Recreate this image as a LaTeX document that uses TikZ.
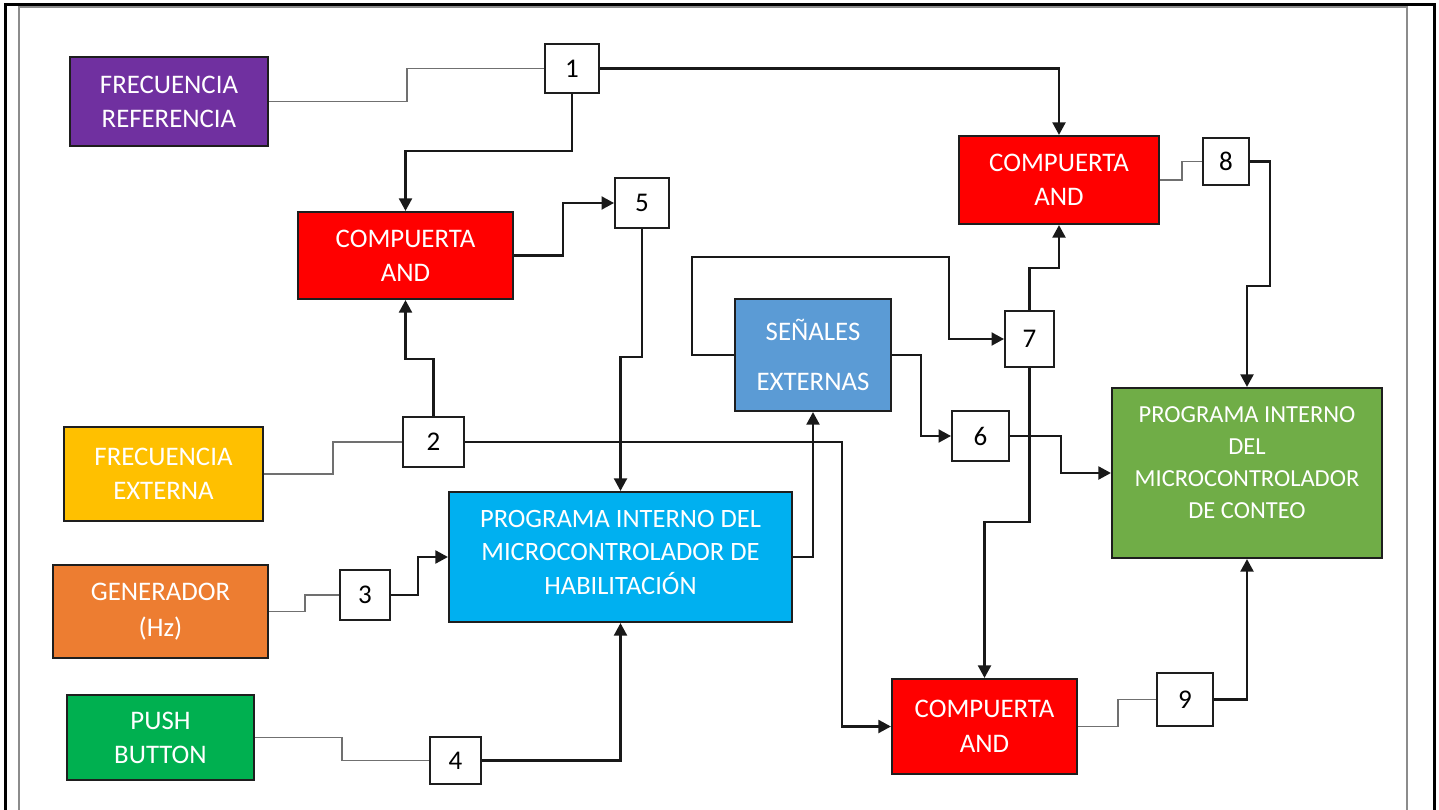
\documentclass[tikz,border=0pt]{standalone}
\usepackage{fontspec}
\setmainfont{Carlito}
\usetikzlibrary{arrows.meta}

\definecolor{cpurple}{HTML}{7030A0}
\definecolor{cred}{HTML}{FF0000}
\definecolor{camber}{HTML}{FFC000}
\definecolor{corange}{HTML}{ED7D31}
\definecolor{cgreen}{HTML}{00B050}
\definecolor{ccyan}{HTML}{00B0F0}
\definecolor{cblue}{HTML}{5B9BD5}
\definecolor{colive}{HTML}{70AD47}
\definecolor{cedge}{HTML}{1E1E1E}
\definecolor{cwire}{HTML}{707070}

\tikzset{
  block/.style={draw=cedge, line width=2.2pt, text=white, align=center,
    inner sep=0pt, font=\fontsize{26.8}{34}\selectfont},
  numbox/.style={draw=cedge, line width=2pt, fill=white, text=black,
    inner sep=0pt, font=\fontsize{27}{30}\selectfont},
  link/.style={line width=2.1pt, draw=black!90, -{Triangle[length=12.5pt,width=13pt]}},
  feed/.style={line width=1.9pt, draw=cwire},
}

\begin{document}
\begin{tikzpicture}[x=1pt, y=-1pt]
\useasboundingbox (0,0) rectangle (1439,810);
\fill[white] (0,0) rectangle (1439,810);

% page frame
\draw[line width=3pt, black] (5,810) -- (5,5) -- (1434,5) -- (1434,810);
\draw[line width=2pt, black!45] (18.5,810) -- (18.5,7.5) -- (1407,7.5) -- (1407,810);

% source blocks
\node[block, fill=cpurple, minimum width=198, minimum height=89] (freqref) at (169,101.5) {FRECUENCIA\\REFERENCIA};
\node[block, fill=camber, minimum width=199, minimum height=94] (freqext) at (163.5,474) {FRECUENCIA\\EXTERNA};
\node[block, fill=corange, minimum width=215, minimum height=93] (gen) at (160.5,611.5) {GENERADOR\\[2pt](Hz)};
\node[block, fill=cgreen, minimum width=187, minimum height=85] (push) at (160.5,737.5) {PUSH\\BUTTON};

% gates
\node[block, fill=cred, minimum width=215, minimum height=87] (andTL) at (405.5,255.5) {COMPUERTA\\AND};
\node[block, fill=cred, minimum width=200, minimum height=88] (andTR) at (1059,180) {COMPUERTA\\AND};
\node[block, fill=cred, minimum width=185, minimum height=95] (andB) at (984.5,726.5) {COMPUERTA\\[1pt]AND};

% processing blocks
\node[block, fill=cblue, minimum width=156, minimum height=112] (sen) at (813,355) {SEÑALES\\[16pt]EXTERNAS};
\node[block, fill=ccyan, minimum width=343, minimum height=130,
  label={[text=white, align=center, font=\fontsize{26.5}{33.5}\selectfont, yshift=5]center:{PROGRAMA INTERNO DEL\\MICROCONTROLADOR DE\\HABILITACIÓN}}] (hab) at (620.5,557) {};
\node[block, fill=colive, minimum width=270, minimum height=170,
  label={[text=white, align=center, font=\fontsize{24.5}{32}\selectfont, yshift=10]center:{PROGRAMA INTERNO\\DEL\\MICROCONTROLADOR\\DE CONTEO}}] (cont) at (1247,473) {};

% numbered test points
\node[numbox, minimum width=54, minimum height=49] (n1) at (572,68.5) {1};
\node[numbox, minimum width=61, minimum height=50] (n2) at (433.5,442) {2};
\node[numbox, minimum width=50, minimum height=50] (n3) at (365,595) {3};
\node[numbox, minimum width=51, minimum height=47] (n4) at (455.5,760.5) {4};
\node[numbox, minimum width=54, minimum height=50] (n5) at (642,203) {5};
\node[numbox, minimum width=57, minimum height=50] (n6) at (980.5,436) {6};
\node[numbox, minimum width=49, minimum height=56] (n7) at (1029.5,339) {7};
\node[numbox, minimum width=46, minimum height=47] (n8) at (1226,161.5) {8};
\node[numbox, minimum width=56, minimum height=53] (n9) at (1185,699.5) {9};

% input feeds
\draw[feed] (freqref.east) -- (407,101.5) |- (n1.west);
\draw[feed] (freqext.east) -- (333,474) |- (n2.west);
\draw[feed] (gen.east) -- (305,611.5) |- (n3.west);
\draw[feed] (push.east) -- (342,737.5) |- (n4.west);
\draw[feed] (andTR.east) -- (1182,180) |- (n8.west);
\draw[feed] (andB.east) -- (1118,726.5) |- (n9.west);

% signal connections
\draw[link] (n1.east) -| (andTR.north);
\draw[link] (n1.south) -- (572,151) -| (andTL.north);
\draw[link] (andTL.east) -- (563,255.5) |- (n5.west);
\draw[link] (n5.south) -- (642,357) -| (hab.north);
\draw[link] (n2.north) -- (433.5,359) -| (andTL.south);
\draw[link] (n2.east) -- (842,442) |- (andB.west);
\draw[link] (n3.east) -- (418,595) |- (hab.west);
\draw[link] (n4.east) -| (hab.south);
\draw[link] (hab.east) -| (sen.south);
\draw[link] (sen.west) -- (692,355) |- (949,257) |- (n7.west);
\draw[link] (sen.east) -- (921,355) |- (n6.west);
\draw[link] (n6.east) -- (1061,436) |- (cont.west);
\draw[link] (n7.north) -- (1029.5,268) -| (andTR.south);
\draw[link] (n7.south) -- (1029.5,522) -| (andB.north);
\draw[link] (n8.east) -- (1270,161.5) |- (1247,286) -- (cont.north);
\draw[link] (n9.east) -| (cont.south);
\end{tikzpicture}
\end{document}
